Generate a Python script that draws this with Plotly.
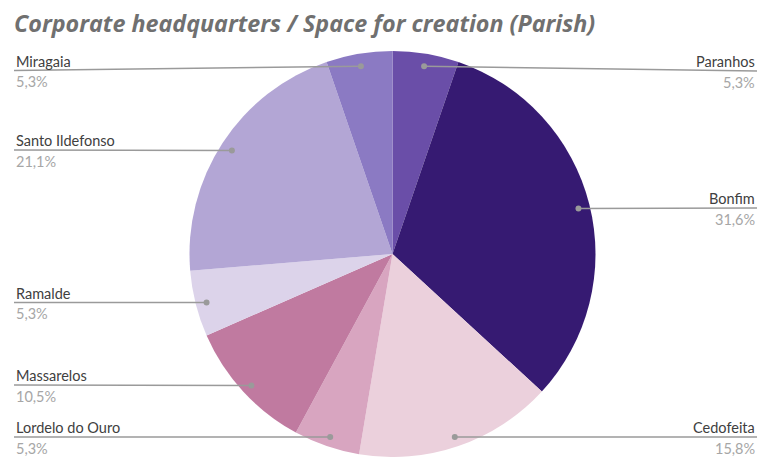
import math
import plotly.graph_objects as go

# Parish breakdown (number of venues), clockwise from 12 o'clock
parishes = ["Paranhos", "Bonfim", "Cedofeita", "Lordelo do Ouro",
            "Massarelos", "Ramalde", "Santo Ildefonso", "Miragaia"]
counts = [1, 6, 3, 1, 2, 1, 4, 1]
colors = ["#6a4ea8", "#361a72", "#ebd0dc", "#d8a5c0",
          "#c07aa0", "#dcd3ea", "#b3a6d5", "#8b7ac3"]

# label placement: side and y of the leader line (pixels)
label_side = ["right", "right", "right", "left", "left", "left", "left", "left"]
label_line_y = [71, 208, 437, 437, 385, 302.5, 150, 70.5]

W, H = 771, 457
CX, CY, R = 392.5, 255.5, 203
LEFT_X, RIGHT_X = 14, 757

total = sum(counts)
pct_text = [f"{c / total * 100:.1f}".replace(".", ",") + "%" for c in counts]

fig = go.Figure()
fig.add_trace(go.Pie(
    labels=parishes, values=counts, sort=False, direction="clockwise",
    rotation=0, marker=dict(colors=colors, line=dict(width=0)),
    textinfo="none", hoverinfo="label+percent", showlegend=False,
    domain=dict(x=[(CX - R) / W, (CX + R) / W], y=[0, 2 * R / H]),
))
# invisible pixel-space axes for leader lines and labels
fig.add_trace(go.Scatter(x=[0, W], y=[0, H], mode="markers",
                         marker=dict(opacity=0), hoverinfo="skip", showlegend=False))

shapes = []
annotations = []
cum = 0
for name, c, side, ly, pct in zip(parishes, counts, label_side, label_line_y, pct_text):
    mid = (cum + c / 2) / total * 2 * math.pi
    cum += c
    dx = CX + 0.945 * R * math.sin(mid)
    dy = CY - 0.945 * R * math.cos(mid)
    lx = LEFT_X if side == "left" else RIGHT_X
    shapes.append(dict(type="line", xref="x", yref="y", x0=lx, y0=ly, x1=dx, y1=dy,
                       line=dict(color="#9a9a9a", width=1.5), layer="above"))
    shapes.append(dict(type="circle", xref="x", yref="y", x0=dx - 3, x1=dx + 3,
                       y0=dy - 3, y1=dy + 3, fillcolor="#9a9a9a",
                       line=dict(width=0), layer="above"))
    anchor = "left" if side == "left" else "right"
    annotations.append(dict(x=lx, y=ly - 9.5, xref="x", yref="y", text=name,
                            showarrow=False, xanchor=anchor, yanchor="middle",
                            font=dict(family="Lato", size=14.5, color="#404040")))
    annotations.append(dict(x=lx, y=ly + 11, xref="x", yref="y", text=pct,
                            showarrow=False, xanchor=anchor, yanchor="middle",
                            font=dict(family="Lato", size=14.5, color="#a6a6a6")))

annotations.append(dict(x=12, y=23, xref="x", yref="y",
                        text="<b><i>Corporate headquarters / Space for creation (Parish)</i></b>",
                        showarrow=False, xanchor="left", yanchor="middle",
                        font=dict(family="Open Sans", size=23.3, color="#707070")))

fig.update_layout(
    width=W, height=H, margin=dict(l=0, r=0, t=0, b=0),
    paper_bgcolor="white", plot_bgcolor="rgba(0,0,0,0)",
    xaxis=dict(range=[0, W], visible=False, fixedrange=True, domain=[0, 1]),
    yaxis=dict(range=[H, 0], visible=False, fixedrange=True, domain=[0, 1]),
    shapes=shapes, annotations=annotations,
)
fig.write_html("out.html")
